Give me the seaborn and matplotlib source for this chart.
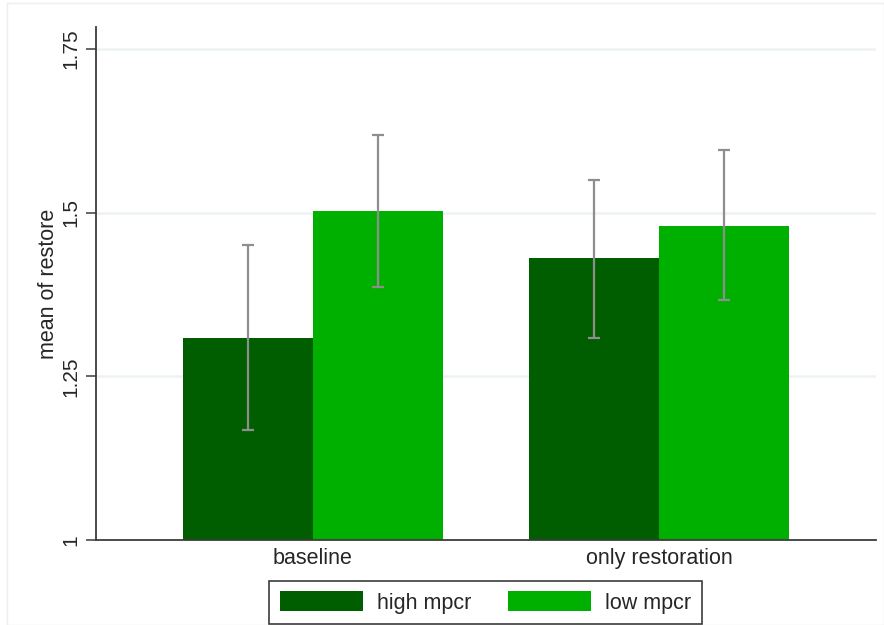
import pandas as pd
import matplotlib.pyplot as plt
import seaborn as sns
from matplotlib.patches import Rectangle

# values
conditions = ["baseline", "only restoration"]
mpcr_levels = ["high mpcr", "low mpcr"]
mean_high = [1.308, 1.430]
mean_low = [1.503, 1.479]
ci_lo_high = [1.168, 1.309]
ci_lo_low = [1.387, 1.366]
ci_hi_high = [1.451, 1.550]
ci_hi_low = [1.619, 1.595]
y_ticks = [1, 1.25, 1.5, 1.75]
y_tick_labels = ["1", "1.25", "1.5", "1.75"]

df = pd.DataFrame(
    {
        "condition": conditions * 2,
        "mpcr": [mpcr_levels[0]] * 2 + [mpcr_levels[1]] * 2,
        "restore": mean_high + mean_low,
    }
)
ci_lo = {mpcr_levels[0]: ci_lo_high, mpcr_levels[1]: ci_lo_low}
ci_hi = {mpcr_levels[0]: ci_hi_high, mpcr_levels[1]: ci_hi_low}
means = {mpcr_levels[0]: mean_high, mpcr_levels[1]: mean_low}

sns.set_style("white")
plt.rcParams["font.family"] = ["Liberation Sans", "DejaVu Sans"]

palette = {"high mpcr": "#005e00", "low mpcr": "#00b000"}
axis_color = "#3c3c3c"

fig = plt.figure(figsize=(8.84, 6.25), dpi=100)
ax = fig.add_axes([96 / 884, 85 / 625, 780 / 884, 513 / 625])

sns.barplot(
    df,
    x="condition",
    y="restore",
    hue="mpcr",
    hue_order=mpcr_levels,
    order=conditions,
    palette=palette,
    width=0.75,
    saturation=1,
    errorbar=None,
    edgecolor="none",
    ax=ax,
)

# confidence intervals
for level, container in zip(mpcr_levels, ax.containers):
    for i, bar in enumerate(container):
        xc = bar.get_x() + bar.get_width() / 2
        m = means[level][i]
        ax.errorbar(
            xc,
            m,
            yerr=[[m - ci_lo[level][i]], [ci_hi[level][i] - m]],
            fmt="none",
            ecolor="#8e8e8e",
            elinewidth=1.6,
            capsize=4,
            capthick=1.6,
            zorder=5,
        )

ax.set_xlim(-0.627, 1.627)
ax.set_ylim(1, 1.7835)
ax.set_yticks(y_ticks)
ax.set_yticklabels(y_tick_labels, rotation=90, va="center")
ax.yaxis.grid(True, color="#edf2f4", linewidth=1.8)
ax.set_axisbelow(True)
ax.set(xlabel="", ylabel="mean of restore")
ax.yaxis.label.set_size(15.5)
ax.yaxis.labelpad = 2

for side in ["top", "right"]:
    ax.spines[side].set_visible(False)
for side in ["left", "bottom"]:
    ax.spines[side].set_color(axis_color)
    ax.spines[side].set_linewidth(1.3)

ax.tick_params(axis="y", length=7, width=1.1, color=axis_color, labelsize=15, pad=4, left=True)
ax.tick_params(axis="x", length=0, labelsize=15.5, pad=6)

handles, labels = ax.get_legend_handles_labels()
ax.get_legend().remove()
leg = fig.legend(
    handles,
    labels,
    loc="center",
    bbox_to_anchor=(485.5 / 884, 22.5 / 625),
    ncol=2,
    fontsize=15.5,
    frameon=True,
    fancybox=False,
    framealpha=1,
    edgecolor=axis_color,
    handlelength=3.85,
    handleheight=1.0,
    handletextpad=0.65,
    columnspacing=1.7,
    borderpad=0.5,
)
leg.get_frame().set_linewidth(1.2)

# faint outer frame like the graph region border
fig.patches.append(
    Rectangle((7 / 884, 0), 877 / 884, 622 / 625, transform=fig.transFigure,
              fill=False, edgecolor="#eeeeee", linewidth=1)
)

fig.savefig("out.png", dpi=100)
